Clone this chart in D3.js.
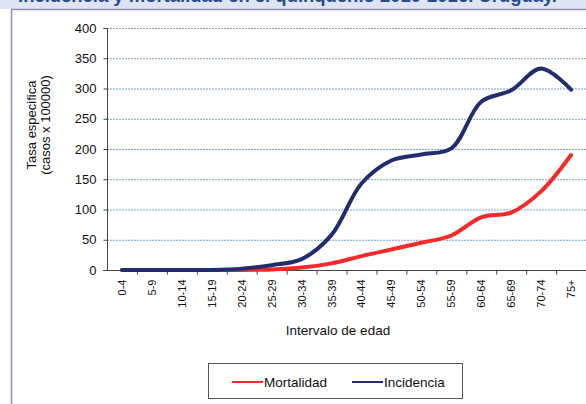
<!DOCTYPE html>
<html>
<head>
<meta charset="utf-8">
<script src="https://cdn.jsdelivr.net/npm/d3@7"></script>
<style>
  body { margin: 0; background: #fff; }
  svg { display: block; font-family: "Liberation Sans", Arial, sans-serif; }
</style>
</head>
<body>
<svg id="chart" width="586" height="404"></svg>
<script>
var ageGroups = ["0-4", "5-9", "10-14", "15-19", "20-24", "25-29", "30-34", "35-39",
                 "40-44", "45-49", "50-54", "55-59", "60-64", "65-69", "70-74", "75+"];
var mortalidad = [0, 0, 0, 0, 0, 1, 4, 11, 23, 34, 45, 57, 87, 95, 130, 190];
var incidencia = [0, 0, 0, 0, 2, 8, 18, 58, 143, 181, 191, 201, 278, 297, 333, 298];
var yTicks = [0, 50, 100, 150, 200, 250, 300, 350, 400];
var seriesNames = ["Mortalidad", "Incidencia"];
var colors = ["#f42a2a", "#232c6e"];

var svg = d3.select("#chart");

// title band (cut off at the top)
svg.append("rect").attr("x", 0).attr("y", 0).attr("width", 586).attr("height", 9)
    .attr("fill", "#dce5f1");
svg.append("text")
    .attr("x", 18).attr("y", 2)
    .attr("font-size", 18).attr("font-weight", "bold")
    .attr("fill", "#2a4a8c")
    .attr("textLength", 539).attr("lengthAdjust", "spacingAndGlyphs")
    .text("Incidencia y mortalidad en el quinquenio 2010-2016. Uruguay.");
svg.append("path")
    .attr("d", "M11.5,404V9.5H586")
    .attr("fill", "none").attr("stroke", "#8f8fb0").attr("stroke-width", 1.5);

var x = d3.scaleBand().domain(ageGroups).range([107, 586]).paddingInner(0).paddingOuter(0);
var y = d3.scaleLinear().domain([0, 400]).range([270, 28]);

// gridlines
svg.append("g").selectAll("line")
    .data(yTicks.filter(function(d){ return d > 0; }))
    .enter().append("line")
    .attr("x1", 107).attr("x2", 586)
    .attr("y1", function(d){ return y(d) + 0.5; })
    .attr("y2", function(d){ return y(d) + 0.5; })
    .attr("stroke", function(d){ return d == 400 ? "#8a98ad" : "#7f9fd0"; })
    .attr("stroke-width", 1)
    .attr("stroke-dasharray", "2,1");

// y axis
var yAxis = svg.append("g")
    .attr("transform", "translate(107.5,0)")
    .call(d3.axisLeft(y).tickValues(yTicks).tickSize(4).tickPadding(7));
yAxis.select(".domain").attr("stroke", "#444").attr("d", "M-4," + (y(400)+0.5) + "H0V" + (y(0)+0.5));
yAxis.selectAll(".tick line").attr("stroke", "#444");
yAxis.selectAll("text").attr("font-size", 13).attr("fill", "#111")
    .attr("font-family", "Liberation Sans, Arial, sans-serif");

// x axis: ticks between categories
var xAxis = svg.append("g").attr("transform", "translate(0,270.5)");
xAxis.append("line").attr("x1", 103).attr("x2", 586).attr("stroke", "#444");
xAxis.selectAll("line.tk")
    .data(ageGroups.slice(1))
    .enter().append("line").attr("class", "tk")
    .attr("x1", function(d){ return x(d) + 0.5; })
    .attr("x2", function(d){ return x(d) + 0.5; })
    .attr("y1", 0).attr("y2", 4)
    .attr("stroke", "#444");
xAxis.selectAll("text")
    .data(ageGroups)
    .enter().append("text")
    .attr("transform", function(d){
        return "translate(" + (x(d) + x.bandwidth() / 2 + 4) + ",9) rotate(-90)";
    })
    .attr("text-anchor", "end")
    .attr("font-size", 11)
    .attr("fill", "#111")
    .text(function(d){ return d; });

// axis titles
svg.append("text")
    .attr("x", 338).attr("y", 335)
    .attr("text-anchor", "middle").attr("font-size", 13.5).attr("fill", "#111")
    .text("Intervalo de edad");
var yt = svg.append("text")
    .attr("transform", "translate(36,125) rotate(-90)")
    .attr("text-anchor", "middle").attr("font-size", 13).attr("fill", "#111");
yt.append("tspan").attr("x", 0).attr("dy", 0).text("Tasa especifica");
yt.append("tspan").attr("x", 0).attr("dy", 14).text("(casos x 100000)");

// lines
var line = d3.line()
    .x(function(d, i){ return x(ageGroups[i]) + x.bandwidth() / 2; })
    .y(function(d){ return y(d); })
    .curve(d3.curveCatmullRom.alpha(0.5));

[mortalidad, incidencia].forEach(function(s, i){
    svg.append("path")
        .datum(s)
        .attr("d", line)
        .attr("fill", "none")
        .attr("stroke", colors[i])
        .attr("stroke-width", 4)
        .attr("stroke-linecap", "round")
        .attr("stroke-linejoin", "round");
});

// legend
var legend = svg.append("g");
legend.append("rect")
    .attr("x", 208.5).attr("y", 363.5).attr("width", 254).attr("height", 35)
    .attr("fill", "#fff").attr("stroke", "#555").attr("stroke-width", 1);
var legendX = [232, 352];
seriesNames.forEach(function(name, i){
    legend.append("line")
        .attr("x1", legendX[i]).attr("x2", legendX[i] + 31)
        .attr("y1", 382).attr("y2", 382)
        .attr("stroke", colors[i]).attr("stroke-width", 2);
    legend.append("text")
        .attr("x", legendX[i] + 32).attr("y", 387)
        .attr("font-size", 13.5).attr("fill", "#111")
        .text(name);
});
</script>
</body>
</html>
